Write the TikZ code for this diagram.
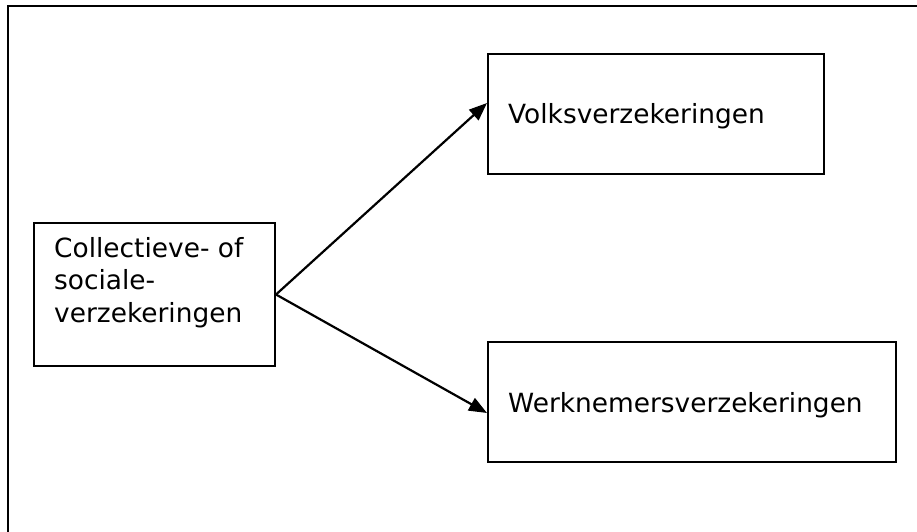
\documentclass[tikz,border=0pt]{standalone}
\usepackage{fontspec}
\setmainfont{DejaVu Sans}
\usetikzlibrary{arrows.meta}
\begin{document}
\begin{tikzpicture}[x=1pt,y=-1pt,
  boxnode/.style={draw=black,line width=2pt,rectangle,inner sep=0pt},
  lbl/.style={anchor=base west,inner sep=0pt,font=\fontsize{26.4}{32.5}\selectfont,text=black},
  conn/.style={line width=2.2pt,-{Triangle[length=18pt,width=14pt]}}]
\clip (0,0) rectangle (917,531);
\fill[white] (0,0) rectangle (917,531);
\draw[line width=2.6pt] (8,6) rectangle (940,560);
\node[boxnode,minimum width=241pt,minimum height=143pt] (src) at (154.5,294.5) {};
\node[boxnode,minimum width=336pt,minimum height=120pt] (volks) at (656,114) {};
\node[boxnode,minimum width=408pt,minimum height=120pt] (werk) at (692,402) {};
\node[lbl] (t1) at (54,257) {Collectieve- of};
\node[lbl] (t2) at (54,289.5) {sociale-};
\node[lbl] (t3) at (54,322) {verzekeringen};
\node[lbl] (tv) at (508,123) {Volksverzekeringen};
\node[lbl] (tw) at (508,412) {Werknemersverzekeringen};
\draw[conn] (src.east) -- ([yshift=11pt]volks.west);
\draw[conn] (src.east) -- ([yshift=-11pt]werk.west);
\end{tikzpicture}
\end{document}
